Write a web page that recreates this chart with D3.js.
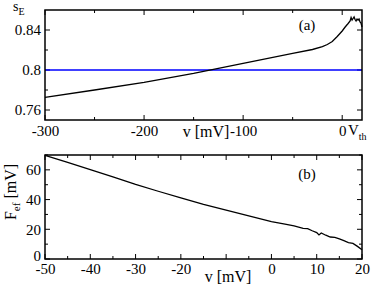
<!DOCTYPE html>
<html>
<head>
<meta charset="utf-8">
<script src="https://cdn.jsdelivr.net/npm/d3@7"></script>
<style>
  body { margin: 0; background: #fff; }
  svg { display: block; }
  text { font-family: "Liberation Serif", "DejaVu Serif", serif; fill: #000; }
</style>
</head>
<body>
<svg id="chart" width="374" height="284"></svg>
<script>
// panel (a): s_E versus v
const vA = [-300, -250, -200, -150, -100, -50, -30, -20, -15, -10, -5, 0, 3, 6, 8, 9, 10, 11, 12, 13, 14, 15, 16, 17, 18, 19, 20];
const sE = [0.7727, 0.7800, 0.7877, 0.7966, 0.8067, 0.8167, 0.8205, 0.8233, 0.8255, 0.8285, 0.8335, 0.8390, 0.8430, 0.8465, 0.8490, 0.8525, 0.8500, 0.8515, 0.8530, 0.8505, 0.8490, 0.8510, 0.8500, 0.8510, 0.8480, 0.8470, 0.8430];
const sRef = 0.8;

// panel (b): F_ef versus v
const vB = [-50, -45, -40, -35, -30, -25, -20, -15, -10, -5, 0, 3, 5, 7, 8, 9, 10, 10.5, 11, 12, 13, 14, 15, 16, 17, 18, 19, 20];
const Fef = [69.7, 65.0, 60.2, 55.2, 50.2, 45.6, 41.1, 36.8, 32.9, 29.0, 25.2, 23.5, 22.3, 20.6, 20.5, 19.0, 17.8, 16.2, 17.5, 16.0, 14.8, 14.6, 13.5, 12.3, 11.0, 10.5, 8.5, 6.2];

// ticks (labelled ones are the long ticks)
const aXMajor = [-300, -200, -100, 0], aXMinor = [-250, -150, -50];
const aYMajor = [0.76, 0.8, 0.84], aYMinor = [0.78, 0.82];
const bXMajor = [-50, -40, -30, -20, -10, 0, 10, 20], bXMinor = [-45, -35, -25, -15, -5, 5, 15];
const bXLabels = [-50, -40, -30, -20, 0, 10, 20];
const bYMajor = [0, 20, 40, 60], bYMinor = [10, 30, 50, 70];

const svg = d3.select("#chart");
const left = 45, right = 362;

function panel(top, bottom, xDom, yDom, xMaj, xMin, yMaj, yMin) {
    const x = d3.scaleLinear().domain(xDom).range([left, right]);
    const y = d3.scaleLinear().domain(yDom).range([bottom, top]);
    const g = svg.append("g");
    const tk = g.append("g").attr("stroke", "#000").attr("stroke-width", 1);
    xMaj.concat(xMin).forEach(v => {
        const len = xMaj.includes(v) ? 5 : 3;
        tk.append("line").attr("x1", x(v)).attr("x2", x(v)).attr("y1", bottom).attr("y2", bottom - len);
        tk.append("line").attr("x1", x(v)).attr("x2", x(v)).attr("y1", top).attr("y2", top + len);
    });
    yMaj.concat(yMin).forEach(v => {
        const len = yMaj.includes(v) ? 5 : 3;
        tk.append("line").attr("y1", y(v)).attr("y2", y(v)).attr("x1", left).attr("x2", left + len);
        tk.append("line").attr("y1", y(v)).attr("y2", y(v)).attr("x1", right).attr("x2", right - len);
    });
    return { x, y, g };
}

function frame(g, top, bottom) {
    g.append("rect").attr("x", left).attr("y", top)
        .attr("width", right - left).attr("height", bottom - top)
        .attr("fill", "none").attr("stroke", "#000").attr("stroke-width", 1.5);
}

const minus = s => s.replace("−", "-");

// ---- panel (a)
const A = panel(10, 120, [-300, 20], [0.75, 0.86], aXMajor, aXMinor, aYMajor, aYMinor);
A.g.append("line")
    .attr("x1", A.x(-300)).attr("x2", A.x(20))
    .attr("y1", A.y(sRef)).attr("y2", A.y(sRef))
    .attr("stroke", "#0000ff").attr("stroke-width", 1.3);
A.g.append("path")
    .datum(vA.map((v, i) => [v, sE[i]]))
    .attr("fill", "none").attr("stroke", "#000").attr("stroke-width", 1.3)
    .attr("d", d3.line().x(d => A.x(d[0])).y(d => A.y(d[1])));
frame(A.g, 10, 120);

A.g.append("g").attr("transform", "translate(0,120)")
    .call(d3.axisBottom(A.x).tickValues(aXMajor).tickSize(0).tickPadding(5).tickFormat(d => minus(String(d))))
    .call(g => g.select(".domain").remove())
    .selectAll("text").attr("font-size", 15);
A.g.append("g").attr("transform", `translate(${left},0)`)
    .call(d3.axisLeft(A.y).tickValues(aYMajor).tickSize(0).tickPadding(4).tickFormat(d => d === 0.8 ? "0.8" : d3.format(".2f")(d)))
    .call(g => g.select(".domain").remove())
    .selectAll("text").attr("font-size", 15);

A.g.append("text").attr("x", 206).attr("y", 137).attr("text-anchor", "middle").attr("font-size", 16).text("v [mV]");
const vth = A.g.append("text").attr("x", 348).attr("y", 135).attr("font-size", 15);
vth.append("tspan").text("V");
vth.append("tspan").attr("dy", 5).attr("font-size", 10).text("th");
const sl = A.g.append("text").attr("x", 13).attr("y", 11).attr("font-size", 14);
sl.append("tspan").text("s");
sl.append("tspan").attr("dy", 4).attr("font-size", 10).text("E");
A.g.append("text").attr("x", 307).attr("y", 30).attr("text-anchor", "middle").attr("font-size", 15).text("(a)");

// ---- panel (b)
const B = panel(155, 259, [-50, 20], [0, 70], bXMajor, bXMinor, bYMajor, bYMinor);
B.g.append("path")
    .datum(vB.map((v, i) => [v, Fef[i]]))
    .attr("fill", "none").attr("stroke", "#000").attr("stroke-width", 1.3)
    .attr("d", d3.line().x(d => B.x(d[0])).y(d => B.y(d[1])));
frame(B.g, 155, 259);

B.g.append("g").attr("transform", "translate(0,259)")
    .call(d3.axisBottom(B.x).tickValues(bXLabels).tickSize(0).tickPadding(4).tickFormat(d => minus(String(d))))
    .call(g => g.select(".domain").remove())
    .selectAll("text").attr("font-size", 15);
B.g.append("g").attr("transform", `translate(${left},0)`)
    .call(d3.axisLeft(B.y).tickValues(bYMajor).tickSize(0).tickPadding(4).tickFormat(d => String(d)))
    .call(g => g.select(".domain").remove())
    .call(g => g.selectAll(".tick").filter(d => d === 0).select("text").attr("dy", "0.1em"))
    .selectAll("text").attr("font-size", 15);

B.g.append("text").attr("x", 228).attr("y", 282).attr("text-anchor", "middle").attr("font-size", 16).text("v [mV]");
const fl = B.g.append("text").attr("transform", "translate(16,192) rotate(-90)").attr("text-anchor", "middle").attr("font-size", 16);
fl.append("tspan").text("F");
fl.append("tspan").attr("dy", 4).attr("font-size", 11).text("ef");
fl.append("tspan").attr("dy", -4).text(" [mV]");
B.g.append("text").attr("x", 307).attr("y", 179).attr("text-anchor", "middle").attr("font-size", 15).text("(b)");
</script>
</body>
</html>
